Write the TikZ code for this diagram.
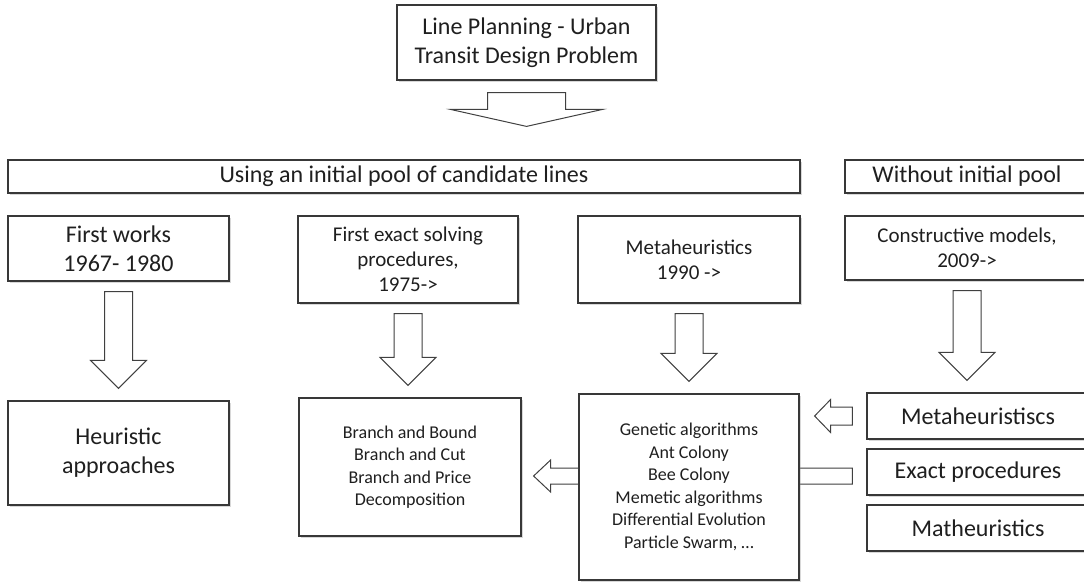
\documentclass[tikz,border=0pt]{standalone}
\usepackage{fontspec}
\setmainfont{Carlito}
\usetikzlibrary{calc}
\usetikzlibrary{shadows}

% block arrow pointing down, from the bottom of #1 to the top of #2
\newcommand{\blockdown}[2]{%
    \draw[blk] ($(#1.south)+(-14,10)$) -- ($(#1.south |- #2.north)+(-14,-40)$)
          -- ++(-14,0) -- ($(#1.south |- #2.north)+(0,-12)$) -- ++(28,-28)
          -- ++(-14,0) -- ($(#1.south)+(14,10)$) -- cycle;
}

\begin{document}
\begin{tikzpicture}[
        x=1pt, y=-1pt,
        box/.style={draw=black!78, line width=1.2pt, fill=white, text=black!88,
                    align=center, inner sep=0pt,
                    drop shadow={shadow xshift=1.5pt, shadow yshift=-2pt, opacity=.3}},
        big/.style={font=\fontsize{24}{29}\selectfont},
        mid/.style={font=\fontsize{21}{25}\selectfont},
        small/.style={font=\fontsize{18}{22.5}\selectfont},
        blk/.style={draw=black!75, line width=1pt, fill=white},
    ]

    \useasboundingbox (0,0) rectangle (1084,582);
    \fill[white] (0,0) rectangle (1084,582);
    \clip (0,0) rectangle (1084,582);

    % heading
    \node[box, big, minimum width=259pt, minimum height=75pt] (top) at (526.5,42.5)
        {Line Planning - Urban\\Transit Design Problem};

    % the two families
    \node[box, big, minimum width=792pt, minimum height=33pt] (pool) at (404,176.5)
        {Using an initial pool of candidate lines};
    \node[box, big, minimum width=244pt, minimum height=33pt] (nopool) at (967,176.5)
        {Without initial pool};

    % first row
    \node[box, big, minimum width=221pt, minimum height=65pt] (works) at (118.5,248.5)
        {First works\\1967- 1980};
    \node[box, mid, minimum width=220pt, minimum height=87pt] (exact) at (408,259.5)
        {First exact solving\\procedures,\\1975->};
    \node[box, mid, minimum width=222pt, minimum height=87pt] (meta) at (689,259.5)
        {Metaheuristics\\1990 ->};
    \node[box, mid, minimum width=244pt, minimum height=64pt] (constr) at (967,248)
        {Constructive models,\\2009->};

    % second row
    \node[box, big, minimum width=221pt, minimum height=104pt] (heur) at (118.5,453)
        {Heuristic\\approaches};
    \node[box, small, minimum width=222pt, minimum height=138pt] (branch) at (410,467)
        {Branch and Bound\\Branch and Cut\\Branch and Price\\Decomposition};
    \node[box, big, minimum width=222pt, minimum height=46pt] (mhs) at (978,416)
        {Metaheuristiscs};
    \node[box, big, minimum width=222pt, minimum height=46pt] (exactp) at (978,472)
        {Exact procedures};
    \node[box, big, minimum width=222pt, minimum height=46pt] (math) at (978,528)
        {Matheuristics};

    % long arrow, runs behind the metaheuristics box
    \coordinate (t2) at ($(branch.east |- exactp.west)+(12,4)$);
    \draw[blk] ($(exactp.west)+(-14,-4)$) -- ($(t2)+(17,-8)$) -- ($(t2)+(17,-16)$)
          -- (t2) -- ($(t2)+(17,16)$) -- ($(t2)+(17,8)$) -- ($(exactp.west)+(-14,12)$) -- cycle;

    \node[box, small, minimum width=220pt, minimum height=186pt] (genetic) at (689,487)
        {Genetic algorithms\\Ant Colony\\Bee Colony\\Memetic algorithms\\Differential Evolution\\Particle Swarm, \ldots};

    % arrows
    \coordinate (t0) at ($(top.south |- pool.north)+(0,-33)$);
    \draw[blk] ($(top.south)+(-39,12)$) -- ($(t0)+(-39,-17)$) -- ($(t0)+(-76,-17)$)
          -- (t0) -- ($(t0)+(76,-17)$) -- ($(t0)+(39,-17)$) -- ($(top.south)+(39,12)$) -- cycle;

    \blockdown{works}{heur}
    \blockdown{exact}{branch}
    \blockdown{meta}{genetic}
    \blockdown{constr}{mhs}

    \coordinate (t1) at ($(genetic.east |- mhs.west)+(15,0)$);
    \draw[blk] ($(mhs.west)+(-14,-9)$) -- ($(t1)+(16,-9)$) -- ($(t1)+(16,-16.5)$)
          -- (t1) -- ($(t1)+(16,16.5)$) -- ($(t1)+(16,9)$) -- ($(mhs.west)+(-14,9)$) -- cycle;

\end{tikzpicture}
\end{document}
